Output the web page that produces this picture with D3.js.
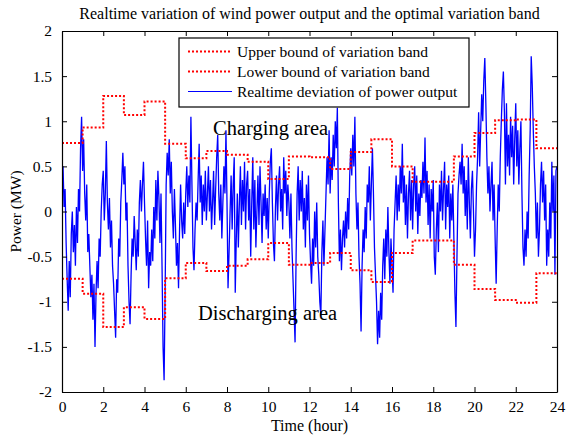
<!DOCTYPE html>
<html>
<head>
<meta charset="utf-8">
<script src="https://d3js.org/d3.v7.min.js"></script>
<style>
    body { margin: 0; background: #fff; }
    text { font-family: "Liberation Serif", "Times New Roman", serif; fill: #000; }
</style>
</head>
<body>
<div id="chart"></div>
<script>

var hours = d3.range(0, 25);

// hourly band, MW
var upper_band = [0.76, 0.93, 1.28, 1.07, 1.22, 0.75, 0.59, 0.67, 0.63, 0.55, 0.36, 0.61,
                  0.60, 0.47, 0.66, 0.80, 0.50, 0.33, 0.33, 0.61, 0.87, 1.01, 1.02, 0.70];
var lower_band = [-0.745, -0.91, -1.28, -1.06, -1.19, -0.74, -0.57, -0.66, -0.60, -0.53, -0.35, -0.59,
                  -0.57, -0.46, -0.65, -0.78, -0.46, -0.32, -0.32, -0.59, -0.86, -0.98, -1.01, -0.685];

// realtime deviation, 20 samples per hour (3 min)
var deviation = [
    0.3, 0.5, 0.05, 0.25, -0.35, -0.75, -1.1, -0.55, -0.95, -0.25, 0.0, -0.45, -0.15, -0.6, 0.05, -0.35, 0.25, 0.0, 0.7, 1.05,
    0.45, 0.8, 0.2, -0.1, 0.3, -0.45, -0.25, -0.6, -0.95, -0.7, -1.2, -0.8, -1.5, -0.9, -0.55, -0.85, -0.3, -0.5, 0.0, 0.3,
    0.45, -0.1, 0.2, 0.78, 0.1, -0.2, 0.15, -0.4, -0.1, -0.6, -0.8, -1.1, -1.4, -0.75, -0.9, -0.3, -0.5, 0.1, 0.35, 0.65,
    0.3, 0.5, -0.1, 0.1, -0.6, -1.0, -1.25, -0.7, -0.3, -0.5, -0.05, -0.35, -0.65, -0.2, -0.5, 0.1, 0.35, 0.0, 0.3, 0.55,
    0.1, -0.3, -0.6, -0.1, -0.85, -0.45, -0.6, -0.2, -0.55, 0.05, -0.3, 0.35, -0.1, 0.45, 0.15, -0.35, 0.2, -0.6, -1.5, -1.87,
    -0.9, 0.3, 0.65, 0.4, 0.8, 0.2, 0.55, 0.0, -0.3, 0.25, -0.15, -0.6, -0.35, -0.85, -0.2, 0.3, -0.1, -0.3, 0.1, -0.25,
    0.2, 0.5, 0.05, 0.4, 0.1, 1.05, 0.3, -0.4, -0.65, -0.2, 0.1, -0.1, 0.35, 0.75, 0.1, 0.4, -0.15, 0.3, 0.0, 0.45,
    -0.1, 0.2, 0.5, 0.0, 0.35, -0.2, 0.1, 0.45, -0.15, 0.25, 0.6, 0.85, 0.2, -0.1, 0.3, -0.3, 0.1, 0.5, 0.2, 0.9,
    0.1, -0.85, -0.45, 0.0, 0.4, -0.2, 0.3, 0.6, -0.9, -0.3, 0.2, -0.4, 0.1, 0.5, -0.15, 0.35, 0.0, 0.55, -0.2, 0.3,
    0.45, -0.1, 0.25, -0.5, 0.1, 0.6, -0.2, 0.35, -0.4, 0.0, 0.4, -0.15, 0.5, 0.1, -0.35, 0.2, -0.05, 0.3, -0.2, 0.15,
    -0.3, 0.2, 0.55, 0.7, 0.1, -0.35, -0.55, 0.05, 0.4, -0.1, 0.3, 0.5, 0.0, 0.25, -0.2, 0.6, 0.2, 0.45, -0.05, 0.3,
    0.1, -0.3, 0.2, -0.4, -0.75, -1.1, -1.45, -0.5, 0.2, 0.5, -0.1, 0.35, 0.0, 0.45, -0.2, 0.15, -0.4, 0.3, -0.1, 0.4,
    -0.25, -0.55, -0.8, -0.3, -0.6, 0.0, -0.4, 0.1, -0.5, -0.7, -1.0, -1.15, -0.45, -0.1, -0.6, -0.2, 0.2, 0.6, 0.3, 0.9,
    0.2, 0.6, 0.35, 0.85, 0.5, 1.0, 0.7, 1.15, 0.1, -0.55, -0.2, -0.65, -0.3, -0.1, -0.4, 0.0, -0.3, 0.15, -0.2, 0.4,
    0.7, 0.4, 0.85, 0.5, 1.05, 0.2, -0.2, 0.1, -0.5, -0.8, -1.33, -0.6, -0.2, -0.45, 0.05, -0.3, 0.3, 0.1, 0.5, -0.1,
    0.3, 0.7, 0.2, -0.4, -0.7, -1.0, -1.47, -1.1, -1.4, -0.9, -1.2, -0.6, -0.3, -0.75, -0.2, -0.5, 0.05, -0.45, -0.8, -0.3,
    -0.6, -0.9, -0.2, 0.1, 0.4, -0.1, 0.3, 0.0, 0.5, 0.2, 0.75, 0.1, 0.4, -0.15, 0.3, -0.3, 0.2, 0.45, -0.1, 0.35,
    -0.2, 0.3, 0.5, 0.0, 0.4, -0.25, 0.2, -0.05, 0.35, 0.15, 0.55, 0.2, 0.82, 0.1, 0.45, -0.15, 0.3, -0.3, 0.25, 0.0,
    0.35, -0.5, -0.7, -0.2, 0.1, -0.45, 0.3, 0.0, 0.45, -0.1, 0.25, 0.55, -0.2, 0.3, 0.05, 0.4, -0.3, 0.2, -0.1, 0.3,
    -0.3, -0.9, -1.28, -0.5, 0.2, 0.4, 0.55, 0.3, 0.75, 0.2, 0.5, -0.05, 0.35, -0.2, 0.6, 0.1, -0.3, 0.25, 0.45, 0.0,
    -0.5, -0.2, 0.3, 0.6, 1.1, 0.5, 0.9, 1.3, 1.0, 1.45, 1.7, 1.2, 0.6, 0.2, 0.5, 0.0, 0.3, 0.55, -0.1, 0.3,
    -0.3, -0.8, -0.2, 0.3, 0.0, 0.6, 1.0, 1.35, 1.55, 1.1, 0.3, 1.2, 0.5, 0.85, 0.4, 1.05, 0.6, 0.95, 0.3, 0.8,
    1.2, 0.5, 0.9, 0.3, 0.7, 1.0, 0.2, -0.4, -0.6, -0.2, -0.5, 0.0, -0.3, 0.4, 0.9, 1.72, 1.4, 0.9, 0.5, 0.2,
    -0.3, 0.1, -0.5, -0.2, 0.3, 0.55, 0.1, 0.45, -0.1, 0.3, -0.6, -0.2, -0.5, 0.1, -0.3, 0.55, 0.0, 0.4, -0.7, 0.45,
    0.5
];
var samples_per_hour = 20;

var x_ticks = [0, 2, 4, 6, 8, 10, 12, 14, 16, 18, 20, 22, 24],
    y_ticks = [-2, -1.5, -1, -0.5, 0, 0.5, 1, 1.5, 2];

var legend_labels = ["Upper bound of variation band",
                     "Lower bound of variation band",
                     "Realtime deviation of power output"];

var width = 566,
    height = 436,
    margin = {top: 31, right: 9, bottom: 44, left: 62};

var svg = d3.select("#chart").append("svg")
    .attr("width", width)
    .attr("height", height);

var x = d3.scaleLinear()
    .domain([0, 24])
    .range([margin.left, width - margin.right]);

var y = d3.scaleLinear()
    .domain([-2, 2])
    .range([height - margin.bottom, margin.top]);

svg.append("defs").append("clipPath")
    .attr("id", "clip")
    .append("rect")
    .attr("x", x(0))
    .attr("y", y(2))
    .attr("width", x(24) - x(0))
    .attr("height", y(-2) - y(2));

var plot = svg.append("g")
    .attr("clip-path", "url(#clip)");

var step_line = d3.line()
    .x(function(d) { return x(d[0]); })
    .y(function(d) { return y(d[1]); })
    .curve(d3.curveStepAfter);

function band_points(values) {
    var pts = values.map(function(v, i) { return [hours[i], v]; });
    pts.push([24, values[values.length - 1]]);
    return pts;
}

var dev_line = d3.line()
    .x(function(d, i) { return x(i / samples_per_hour); })
    .y(function(d) { return y(d); });

plot.append("path")
    .datum(deviation)
    .attr("d", dev_line)
    .attr("fill", "none")
    .attr("stroke", "#0000ff")
    .attr("stroke-width", 1.3);

[upper_band, lower_band].forEach(function(band) {
    plot.append("path")
        .datum(band_points(band))
        .attr("d", step_line)
        .attr("fill", "none")
        .attr("stroke", "#ff0000")
        .attr("stroke-width", 2)
        .attr("stroke-dasharray", "2,2");
});

// axes with inward ticks on all four sides
var tick_len = 5;

svg.append("g")
    .attr("transform", "translate(0," + y(-2) + ")")
    .call(d3.axisBottom(x).tickValues(x_ticks).tickSizeInner(-tick_len).tickSizeOuter(0).tickPadding(9))
    .call(style_axis);

svg.append("g")
    .attr("transform", "translate(0," + y(2) + ")")
    .call(d3.axisTop(x).tickValues(x_ticks).tickSizeInner(-tick_len).tickSizeOuter(0).tickFormat(""))
    .call(style_axis);

svg.append("g")
    .attr("transform", "translate(" + x(0) + ",0)")
    .call(d3.axisLeft(y).tickValues(y_ticks).tickSizeInner(-tick_len).tickSizeOuter(0).tickPadding(10)
        .tickFormat(function(d) { return d; }))
    .call(style_axis);

svg.append("g")
    .attr("transform", "translate(" + x(24) + ",0)")
    .call(d3.axisRight(y).tickValues(y_ticks).tickSizeInner(-tick_len).tickSizeOuter(0).tickFormat(""))
    .call(style_axis);

function style_axis(g) {
    g.select(".domain").attr("stroke", "#000").attr("stroke-width", 1.2);
    g.selectAll(".tick line").attr("stroke", "#000");
    g.selectAll(".tick text")
        .style("font-family", "'Liberation Serif', serif")
        .style("font-size", "15.5px")
        .attr("fill", "#000");
}

svg.append("text")
    .attr("x", (x(0) + x(24)) / 2)
    .attr("y", 19)
    .attr("text-anchor", "middle")
    .style("font-size", "16px")
    .text("Realtime variation of wind power output and the optimal variation band");

svg.append("text")
    .attr("x", (x(0) + x(24)) / 2)
    .attr("y", 431)
    .attr("text-anchor", "middle")
    .style("font-size", "16px")
    .text("Time (hour)");

svg.append("text")
    .attr("transform", "translate(21," + y(0) + ") rotate(-90)")
    .attr("text-anchor", "middle")
    .style("font-size", "15.5px")
    .text("Power (MW)");

svg.append("text")
    .attr("x", 213)
    .attr("y", 135)
    .style("font-size", "20.5px")
    .text("Charging area");

svg.append("text")
    .attr("x", 198)
    .attr("y", 320)
    .style("font-size", "20.5px")
    .text("Discharging area");

// legend
var legend = svg.append("g");

legend.append("rect")
    .attr("x", 179)
    .attr("y", 38)
    .attr("width", 290)
    .attr("height", 69)
    .attr("fill", "#fff")
    .attr("stroke", "#000")
    .attr("stroke-width", 1.2);

var legend_rows = legend.selectAll(".row")
    .data(legend_labels)
    .enter().append("g")
    .attr("class", "row")
    .attr("transform", function(d, i) { return "translate(0," + (51.5 + i * 20) + ")"; });

legend_rows.append("line")
    .attr("x1", 188)
    .attr("x2", 232)
    .attr("y1", 0)
    .attr("y2", 0)
    .attr("stroke", function(d, i) { return i < 2 ? "#ff0000" : "#0000ff"; })
    .attr("stroke-width", function(d, i) { return i < 2 ? 2 : 1.1; })
    .attr("stroke-dasharray", function(d, i) { return i < 2 ? "2,2" : null; });

legend_rows.append("text")
    .attr("x", 237)
    .attr("y", 5.5)
    .style("font-size", "15.5px")
    .text(function(d) { return d; });

</script>
</body>
</html>
